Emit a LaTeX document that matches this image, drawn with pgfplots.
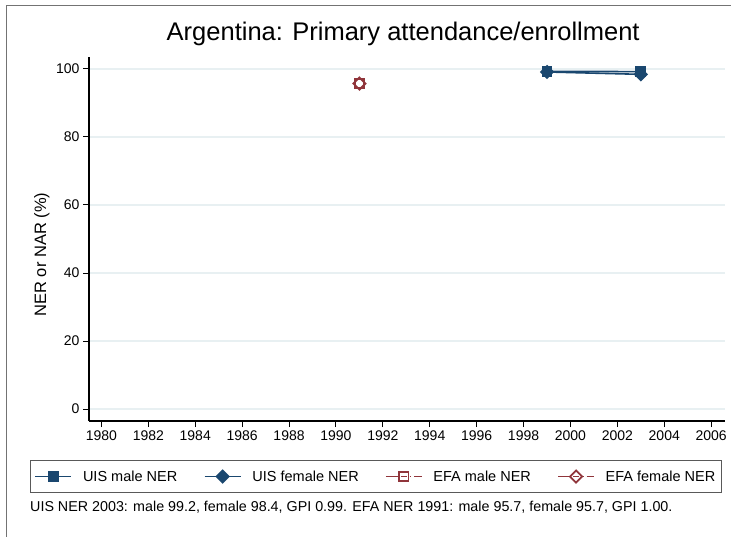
\documentclass[border=0pt]{standalone}
\usepackage{fontspec}
\setmainfont{Liberation Sans}
\usepackage{pgfplots}
\pgfplotsset{compat=1.18}
\definecolor{statanavy}{RGB}{26,71,111}
\definecolor{statamaroon}{RGB}{144,53,59}
\definecolor{gridc}{RGB}{232,240,242}
\begin{document}
\begin{tikzpicture}
\useasboundingbox (0pt,0pt) rectangle (731pt,-536pt);
\fill[white] (0pt,0pt) rectangle (731pt,-536pt);
\draw[line width=1pt, black!55] (6pt,-5pt) rectangle (760pt,-560pt);
\begin{axis}[
  at={(89pt,-421pt)}, anchor=south west,
  scale only axis, width=636pt, height=364pt,
  xmin=1979.47, xmax=2006.59,
  ymin=-3.5, ymax=103.5,
  axis x line*=bottom, axis y line*=left,
  axis line style={line width=1.2pt, -},
  xtick={1980,1982,...,2006},
  ytick={0,20,40,60,80,100},
  tick align=outside,
  major tick length=6pt,
  tick style={black, line width=1pt},
  /pgf/number format/assume math mode=true,
  /pgf/number format/1000 sep={},
  tick label style={font=\fontsize{14}{16}\selectfont},
  ymajorgrids=true,
  grid style={gridc, line width=1.5pt},
  title={Argentina: Primary attendance/enrollment},
  title style={at={(0.494,1.0275)}, anchor=base, font=\fontsize{25.5}{30}\selectfont},
  ylabel={NER or NAR (\%)},
  ylabel style={at={(axis description cs:-0.074,0.457)}, anchor=center, font=\fontsize{16.5}{19}\selectfont},
  legend columns=4,
  legend cell align=left,
  legend style={at={(axis description cs:-0.0928,-0.1074)}, anchor=north west,
    draw=black!65, line width=0.9pt, font=\fontsize{14.5}{17}\selectfont,
    inner xsep=4pt, inner ysep=8pt,
    /tikz/every odd column/.append style={column sep=9pt},
    /tikz/every even column/.append style={column sep=24.5pt}},
  legend image code/.code={\draw[mark repeat=2, mark phase=2, #1] plot coordinates {(0pt,0pt) (18pt,0pt) (36pt,0pt)};},
]
\addplot[color=statanavy, line width=1.6pt, mark=square*, mark size=4.6pt,
  mark options={solid, fill=statanavy}]
  coordinates {(1999,99.3) (2003,99.2)};
\addlegendentry{UIS male NER}
\addplot[color=statanavy, line width=1.6pt, mark=square*, mark size=4.3pt,
  mark options={solid, fill=statanavy, rotate=45}]
  coordinates {(1999,99.1) (2003,98.4)};
\addlegendentry{UIS female NER}
\addplot[color=statamaroon, line width=1.2pt,
  dash pattern=on 12pt off 3pt on 6pt off 3pt on 1.5pt off 3pt,
  mark=square, mark size=4.6pt, mark options={solid, line width=1.8pt}]
  coordinates {(1991,95.7)};
\addlegendentry{EFA male NER}
\addplot[color=statamaroon, line width=1.2pt,
  dash pattern=on 12pt off 3pt on 6pt off 3pt on 1.5pt off 3pt,
  mark=square, mark size=4.3pt, mark options={solid, line width=1.8pt, rotate=45}]
  coordinates {(1991,95.7)};
\addlegendentry{EFA female NER}
\end{axis}
\node[anchor=base west, font=\fontsize{14.3}{17}\selectfont, inner sep=0pt] at (30pt,-511pt)
  {UIS NER 2003: male 99.2, female 98.4, GPI 0.99. EFA NER 1991: male 95.7, female 95.7, GPI 1.00.};
\end{tikzpicture}
\end{document}
